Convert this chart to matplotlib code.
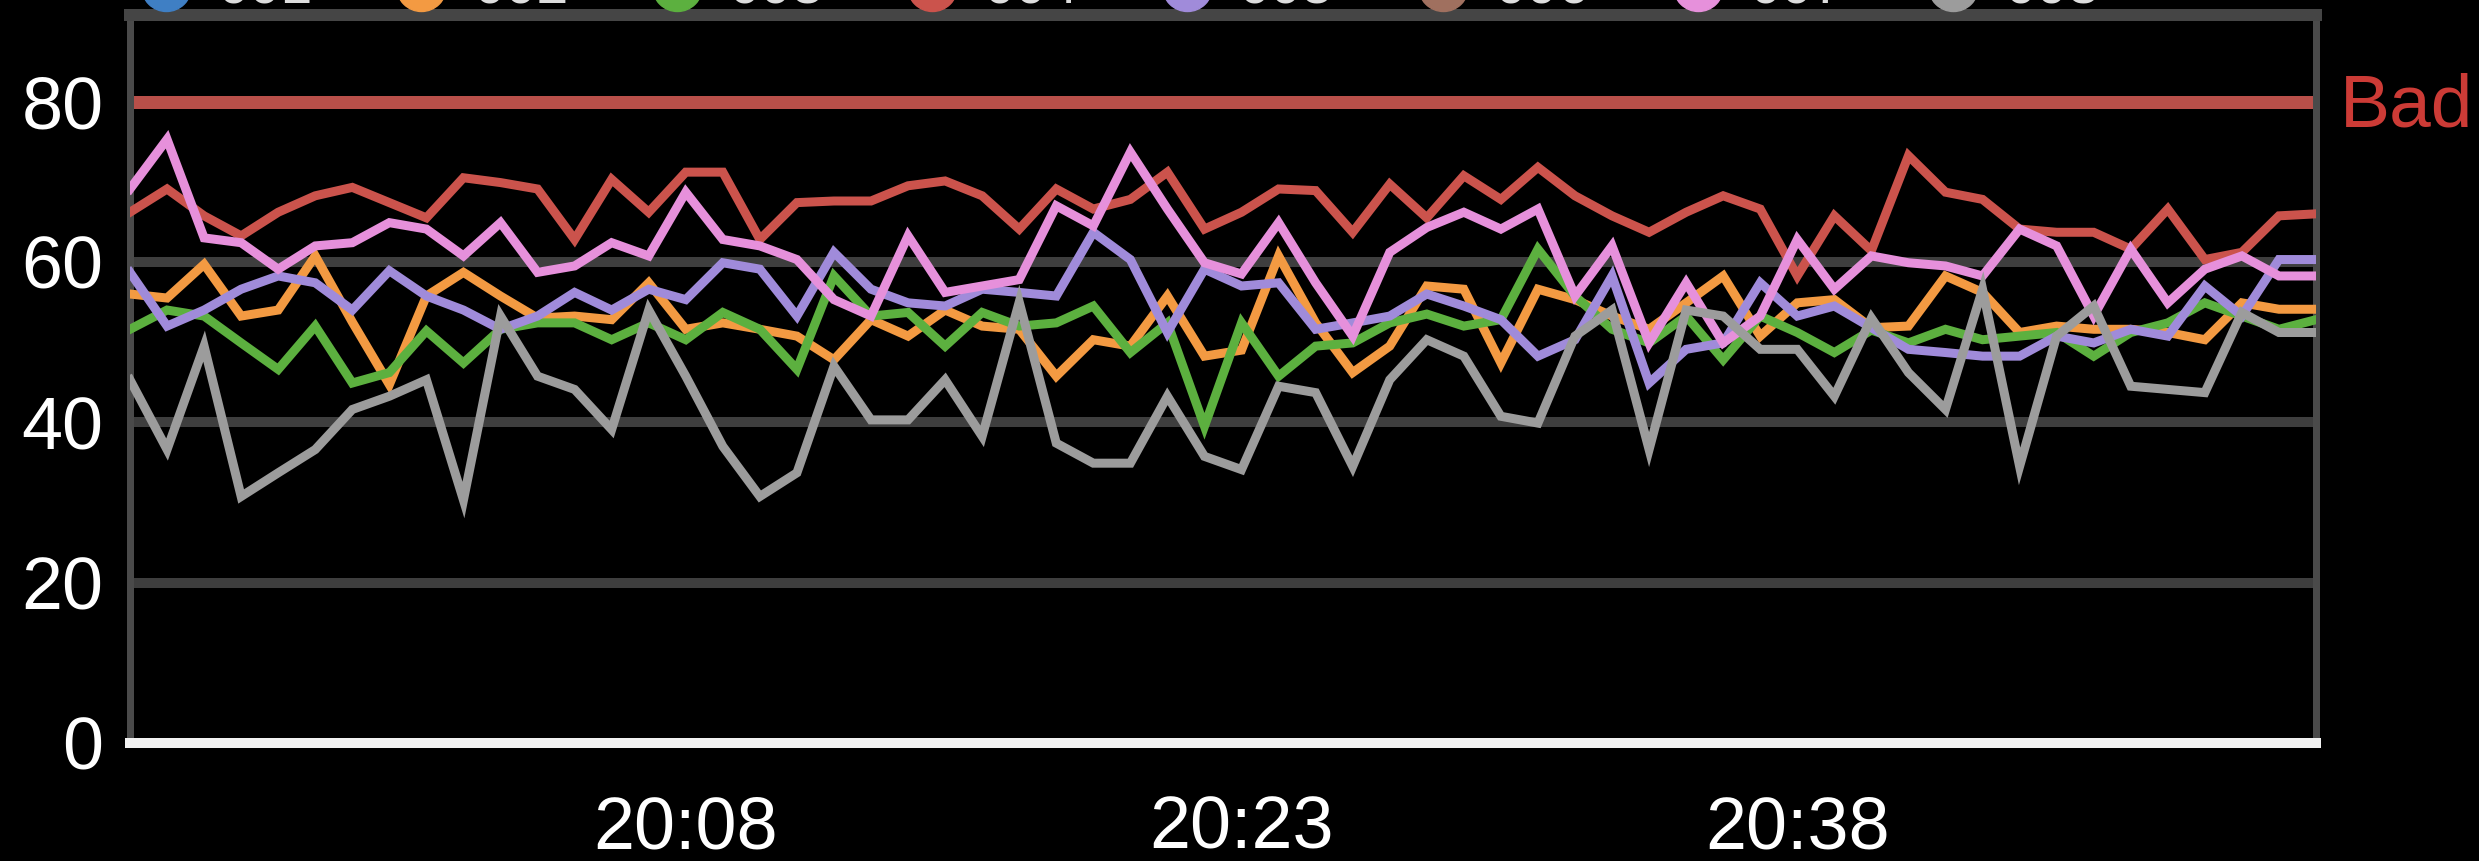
import matplotlib
matplotlib.use('Agg')
import matplotlib.pyplot as plt
import matplotlib.dates as mdates
import matplotlib.transforms as mtransforms
from matplotlib.lines import Line2D
import datetime as dt

plt.rcParams['font.family'] = ['Liberation Sans', 'DejaVu Sans']

# ---------------- data ----------------
start_time = dt.datetime(2013, 1, 1, 19, 53)
n_points = 60
times = [start_time + dt.timedelta(minutes=i) for i in range(n_points)]

series_names = ['001', '002', '003', '004', '005', '006', '007', '008']
series_colors = ['#3f7fc4', '#f39a42', '#5cb03f', '#cb534c', '#a08bda', '#a0705f', '#e690db', '#9c9c9c']

s001 = []
s002 = [56, 55.5, 59.7, 53.25, 54, 60.75, 52.5, 44.7, 55.75, 58.7, 55.75, 53,
        53.25, 52.8, 57.4, 51.6, 52.4, 51.6, 50.75, 47.8, 52.8, 50.75, 54, 52,
        51.6, 45.75, 50.3, 49.5, 55.75, 48.25, 49, 60.75, 52.4, 46.2, 49.5, 57,
        56.6, 47.4, 56.6, 55.3, 53.25, 51.6, 54.9, 58.25, 50.75, 54.9, 55.3, 51.8,
        52, 58.25, 56.2, 51.2, 52, 51.6, 51.6, 51.2, 50.3, 54.9, 54.1, 54.1]
s003 = [51.6, 54, 53.25, 49.9, 46.6, 52, 44.9, 46.2, 51.4, 47.4, 51.6, 52.4,
        52.4, 50.3, 52.4, 50.3, 53.7, 51.6, 46.6, 58.25, 53.25, 53.7, 49.5, 53.7,
        52, 52.4, 54.5, 48.7, 52.4, 39.5, 52.4, 45.75, 49.5, 49.9, 52.4, 53.5,
        52, 52.8, 61.6, 55.75, 51.6, 49.9, 53.25, 47.8, 53.25, 51.2, 48.7, 51.5,
        49.9, 51.6, 50.3, 50.75, 51.2, 48.25, 51.2, 52.4, 54.9, 53.25, 51.6, 52.8]
s004 = [66.2, 69.1, 65.75, 63.25, 66.2, 68.25, 69.3, 67.4, 65.5, 70.5, 69.9, 69.1,
        62.8, 70.3, 66.2, 71.2, 71.2, 62.8, 67.4, 67.6, 67.6, 69.5, 70.1, 68.25,
        64.1, 69.1, 66.6, 67.8, 71.2, 64.1, 66.2, 69.1, 68.9, 63.7, 69.7, 65.5,
        70.75, 67.8, 71.8, 68.25, 65.75, 63.7, 66.2, 68.25, 66.6, 58.25, 65.75, 61.4,
        73.25, 68.7, 67.8, 64.1, 63.7, 63.7, 61.6, 66.6, 60.3, 61.2, 65.75, 66]
s005 = [58.7, 52, 54, 56.6, 58.25, 57.4, 54, 58.9, 55.75, 54, 51.6, 53.25,
        56.2, 54, 56.6, 55.3, 59.9, 59.1, 53.25, 61.2, 56.6, 54.9, 54.5, 56.6,
        56.2, 55.75, 63.7, 60.3, 51.2, 59.1, 57, 57.4, 51.6, 52.4, 53.25, 56,
        54.5, 52.8, 48.25, 50.3, 58.25, 44.9, 49.1, 49.9, 57.4, 53.25, 54.5, 51.8,
        49.1, 48.7, 48.25, 48.25, 50.75, 49.9, 51.6, 50.75, 57, 53.25, 60.3, 60.3]
s006 = []
s007 = [69.1, 75.3, 63, 62.4, 59.1, 62, 62.4, 64.9, 64.1, 60.75, 64.9, 58.7,
        59.5, 62.4, 60.75, 68.7, 62.8, 62, 60.3, 55.3, 53.25, 63.25, 56.2, 57,
        57.8, 67, 64.5, 73.7, 66.6, 59.9, 58.5, 64.9, 57.4, 50.75, 61.2, 64.3,
        66.2, 64.1, 66.6, 55.75, 62, 49.9, 57.4, 49.9, 53.25, 62.8, 56.6, 60.75,
        59.9, 59.5, 58.25, 64.1, 62, 53.25, 61.6, 54.9, 59.1, 60.75, 58.25, 58.25]
s008 = [45.3, 36.6, 49.5, 30.75, 33.7, 36.6, 41.6, 43.25, 45.3, 30.3, 53.25, 45.75,
        44.1, 39.1, 54, 45.75, 37, 30.75, 33.7, 47, 40.3, 40.3, 45.3, 38.25,
        55, 37.4, 34.9, 34.9, 43.25, 35.75, 34.1, 44.5, 43.7, 34.5, 45.3, 50.3,
        48.25, 40.75, 39.9, 50.75, 54, 36.6, 54, 53.25, 49.1, 49.1, 43.25, 53,
        46.2, 41.6, 56.6, 34.5, 50.75, 54.5, 44.5, 44.1, 43.7, 53.7, 51.2, 51.2]

series_values = [s001, s002, s003, s004, s005, s006, s007, s008]

threshold_value = 80
threshold_label = 'Bad'
y_ticks = [0, 20, 40, 60, 80]
grid_values = [20, 40, 60]
x_tick_times = [times[15], times[30], times[45]]

# ---------------- figure ----------------
W, H, DPI = 2479, 861, 100
fig = plt.figure(figsize=(W / DPI, H / DPI), dpi=DPI, facecolor='black')
ax_left, ax_right, ax_top, ax_bottom = 130, 2316, 15, 743
ax = fig.add_axes([ax_left / W, 1 - ax_bottom / H, (ax_right - ax_left) / W, (ax_bottom - ax_top) / H])
ax.set_facecolor('black')

px = 72.0 / DPI  # points per pixel

for g in grid_values:
    ax.axhline(g, color='#3e3e3e', lw=10 * px, zorder=1)

ax.axhline(threshold_value, color='#b84f49', lw=13 * px, zorder=2)

for vals, col in zip(series_values, series_colors):
    ax.plot(times[:len(vals)], vals, color=col, lw=9 * px, zorder=3,
            solid_joinstyle='miter')

ax.set_xlim(times[0], times[-1])
ax.set_ylim(0, 90.8)
ax.set_yticks(y_ticks)
ax.set_xticks(x_tick_times)
ax.xaxis.set_major_formatter(mdates.DateFormatter('%H:%M'))

ax.tick_params(axis='both', length=0, labelsize=53, colors='white')
ax.tick_params(axis='y', pad=19)
ax.tick_params(axis='x', pad=37)

for side in ['left', 'right']:
    ax.spines[side].set_color('#4a4a4a')
    ax.spines[side].set_linewidth(7 * px)
ax.spines['top'].set_color('#454545')
ax.spines['top'].set_linewidth(12 * px)
ax.spines['bottom'].set_color('#f2f2f2')
ax.spines['bottom'].set_linewidth(10 * px)
ax.spines['bottom'].set_zorder(5)

# threshold label
trans = mtransforms.blended_transform_factory(ax.transAxes, ax.transData)
ax.text((2340 - ax_left) / (ax_right - ax_left), 76.85, threshold_label, transform=trans,
        color='#cc3b36', fontsize=54, ha='left', va='baseline', clip_on=False)

# legend (partly outside the top edge, as in the original)
leg_x0, leg_dx = 166, 255.3
for i, (name, col) in enumerate(zip(series_names, series_colors)):
    xc = leg_x0 + leg_dx * i
    fig.add_artist(Line2D([xc / W], [1 + 14 / H], marker='o', markersize=50 * px,
                          markerfacecolor=col, markeredgecolor=col, linestyle='none',
                          transform=fig.transFigure))
    fig.text((xc + 52) / W, 1 - 3 / H, name, color='#dddddd', fontsize=41,
             ha='left', va='baseline')

fig.savefig('out.png', dpi=DPI, facecolor='black')
